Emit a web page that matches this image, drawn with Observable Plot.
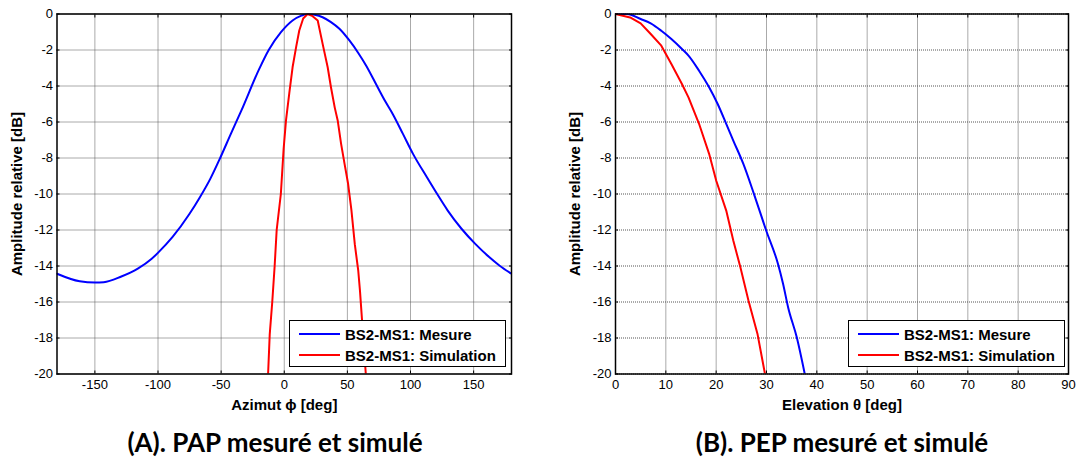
<!DOCTYPE html>
<html><head><meta charset="utf-8">
<script src="https://cdn.jsdelivr.net/npm/d3@7"></script>
<script src="https://cdn.jsdelivr.net/npm/@observablehq/plot@0.6"></script>
<style>
body{margin:0;background:#fff;width:1079px;height:458px;overflow:hidden;position:relative;font-family:"Liberation Sans",Arial,sans-serif;}
.panel{position:absolute;top:0;}
.caption{position:absolute;top:426px;font-family:Lato,"Open Sans",sans-serif;font-weight:700;font-size:26px;line-height:32px;white-space:nowrap;transform:translateX(-50%);color:#000;}
.legend{position:absolute;top:320px;width:217px;height:47px;box-sizing:border-box;background:#fff;border:1px solid #000;font-family:"Liberation Sans",Arial,sans-serif;font-weight:700;font-size:15px;}
.legend .row{position:absolute;left:0;height:20px;display:flex;align-items:center;}
.legend .sw{width:41px;height:2px;margin-left:9px;margin-right:5px;}
</style></head><body>
<div id="left" class="panel" style="left:0px"></div>
<div id="right" class="panel" style="left:540px"></div>
<script>
// ---- data ----
const yTicks = [0, -2, -4, -6, -8, -10, -12, -14, -16, -18, -20];
const azTicks = [-150, -100, -50, 0, 50, 100, 150];
const elTicks = [0, 10, 20, 30, 40, 50, 60, 70, 80, 90];

const seriesNames = ["BS2-MS1: Mesure", "BS2-MS1: Simulation"];
const seriesColors = ["#0000ff", "#ff0000"];

// (A) Azimut - mesure
const azMesX = [-180,-162,-150,-143,-129.5,-116,-105,-99.5,-88.6,-75,-66.8,-58.6,-50.5,-42.3,-34,-19.8,-12.3,-2.6,6.6,13.6,18.5,24,30.4,37,43.7,51.6,58.5,64.8,74,80,85.9,94,102,113,121,129.5,140.4,151.3,162.3,170.4,180];
const azMesY = [-14.43,-14.85,-14.92,-14.9,-14.6,-14.15,-13.6,-13.23,-12.4,-11.1,-10.18,-9.16,-7.96,-6.66,-5.37,-3.05,-2.0,-1.01,-0.36,-0.09,0,-0.04,-0.18,-0.45,-0.82,-1.47,-2.15,-2.86,-4.07,-4.85,-5.55,-6.66,-7.77,-9.07,-9.99,-10.92,-11.93,-12.77,-13.5,-13.97,-14.43];
// (A) Azimut - simulation
const azSimX = [-12.8,-11.5,-9.5,-7.6,-6,-2.7,-0.5,1.4,4,6.6,9.5,11.9,15,18.5,22,26.5,30.4,34.4,37,40,42.3,45,47.7,50.5,53.2,55.9,58.6,60,61.4,62.7,64.6];
const azSimY = [-20,-17.8,-16,-14,-12,-10,-7.5,-5.9,-4.4,-2.96,-1.8,-0.92,-0.25,0,-0.1,-0.36,-1.66,-2.96,-4.07,-5.2,-5.9,-7.2,-8.3,-9.4,-10.9,-12.8,-14.25,-15.4,-16.8,-18.1,-20];
// (B) Elevation - mesure
const elMesX = [0,2.25,5,7,9.1,11.1,13.2,14.5,16.6,18.6,20.3,22,23.4,25.4,27.5,29.9,32.3,33.3,34.3,36,37.6];
const elMesY = [0,0,-0.28,-0.52,-0.93,-1.39,-1.94,-2.31,-3.15,-4.07,-5.0,-6.1,-7.03,-8.33,-9.99,-12.0,-13.9,-15.0,-16.3,-17.95,-20];
// (B) Elevation - simulation
const elSimX = [0,2.9,5,7,9.1,11.1,13.2,14.5,16.6,18.6,20,22,23.4,24.8,26.4,28.2,29.7];
const elSimY = [0,-0.19,-0.52,-1.11,-1.76,-2.78,-3.89,-4.63,-6.1,-7.77,-9.25,-10.92,-12.58,-14.06,-15.9,-17.76,-20];

const yLabel = "Amplitude relative [dB]";
const azLabel = "Azimut \u03d5 [deg]";
const elLabel = "Elevation \u03b8 [deg]";
const captions = ["(A). PAP mesuré et simulé", "(B). PEP mesuré et simulé"];

function toRows(xs, ys) { return xs.map((x, i) => ({x, y: ys[i]})); }

function chart({width, marginLeft, marginRight, xDomain, xTicks, xLabel, mes, sim}) {
  const grid = {stroke: "#555", strokeOpacity: 1, strokeDasharray: "1,1", strokeWidth: 1};
  const fmt = d => String(d);
  const blank = () => "";
  return Plot.plot({
    width, height: 418,
    marginLeft, marginRight, marginTop: 13.5, marginBottom: 44.5,
    style: {fontFamily: "'Liberation Sans', Arial, sans-serif", fontSize: "13px", color: "#000", background: "#fff", overflow: "visible"},
    x: {domain: xDomain},
    y: {domain: [-20, 0]},
    marks: [
      Plot.gridX(xTicks, grid),
      Plot.gridY(yTicks, grid),
      Plot.line(mes, {x: "x", y: "y", stroke: seriesColors[0], strokeWidth: 2, clip: true, curve: "monotone-x"}),
      Plot.line(sim, {x: "x", y: "y", stroke: seriesColors[1], strokeWidth: 2, clip: true}),
      Plot.frame({stroke: "#000", strokeWidth: 1.5}),
      Plot.axisX(xTicks, {anchor: "bottom", tickSize: 0, tickPadding: 6, tickFormat: fmt, label: null, fontSize: 13}),
      Plot.axisX(xTicks, {anchor: "bottom", tickSize: 3, dy: -3, tickFormat: blank, label: null}),
      Plot.axisX(xTicks, {anchor: "top", tickSize: 3, dy: 3, tickFormat: blank, label: null}),
      Plot.axisY(yTicks, {anchor: "left", tickSize: 0, tickPadding: 4, tickFormat: fmt, label: null, fontSize: 13}),
      Plot.axisY(yTicks, {anchor: "left", tickSize: 3, dx: 3, tickFormat: blank, label: null}),
      Plot.axisY(yTicks, {anchor: "right", tickSize: 3, dx: -3, tickFormat: blank, label: null}),
      Plot.text([xLabel], {text: d => d, frameAnchor: "bottom", dy: 31.5, fontWeight: "bold", fontSize: 15, lineAnchor: "middle", textAnchor: "middle"}),
      Plot.text([yLabel], {text: d => d, frameAnchor: "left", dx: -40, rotate: -90, fontWeight: "bold", fontSize: 15, lineAnchor: "middle", textAnchor: "middle"})
    ]
  });
}

function legend(container, leftPx) {
  const lg = document.createElement("div");
  lg.className = "legend";
  lg.style.left = leftPx + "px";
  seriesNames.forEach((name, i) => {
    const row = document.createElement("div");
    row.className = "row";
    row.style.top = (i === 0 ? 3 : 24) + "px";
    const sw = document.createElement("div");
    sw.className = "sw";
    sw.style.background = seriesColors[i];
    const t = document.createElement("span");
    t.textContent = name;
    row.appendChild(sw); row.appendChild(t);
    lg.appendChild(row);
  });
  container.appendChild(lg);
}

function caption(container, centerPx, text) {
  const c = document.createElement("div");
  c.className = "caption";
  c.style.left = centerPx + "px";
  c.textContent = text;
  container.appendChild(c);
}

const L = document.getElementById("left");
L.appendChild(chart({width: 540, marginLeft: 56.5, marginRight: 29, xDomain: [-180, 180], xTicks: azTicks, xLabel: azLabel,
  mes: toRows(azMesX, azMesY), sim: toRows(azSimX, azSimY)}));
legend(L, 289);
caption(L, 275, captions[0]);

const R = document.getElementById("right");
R.appendChild(chart({width: 539, marginLeft: 75, marginRight: 11, xDomain: [0, 90], xTicks: elTicks, xLabel: elLabel,
  mes: toRows(elMesX, elMesY), sim: toRows(elSimX, elSimY)}));
legend(R, 308);
caption(R, 302, captions[1]);
</script>
</body></html>
